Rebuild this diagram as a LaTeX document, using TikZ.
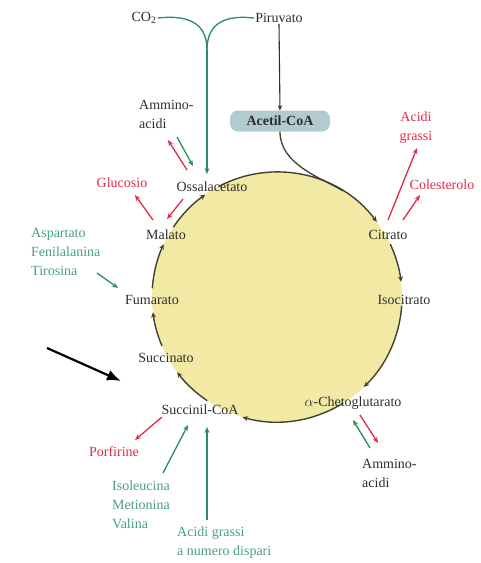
\documentclass[tikz,border=0pt]{standalone}
\usepackage{fontspec}
\setmainfont{Liberation Serif}
\usetikzlibrary{arrows.meta,calc}
\definecolor{cyc}{RGB}{242,233,165}
\definecolor{rim}{RGB}{65,65,45}
\definecolor{rd}{RGB}{222,45,70}
\definecolor{gr}{RGB}{45,140,95}
\definecolor{grt}{RGB}{70,160,120}
\definecolor{boxc}{RGB}{178,203,208}
\definecolor{txt}{RGB}{45,45,45}
\begin{document}
\begin{tikzpicture}[x=1pt,y=1pt,
 lbl/.style={font=\fontsize{14}{19}\selectfont, text=txt, inner sep=1pt},
 rlbl/.style={lbl,text=rd},
 glbl/.style={lbl,text=grt},
 multi/.style={align=left, anchor=west},
 cycarrow/.style={draw=rim, line width=1.4pt, -{Stealth[length=5.5pt,width=5pt]}},
 rarr/.style={draw=rd, line width=1.3pt, -{Stealth[length=6pt,width=5pt]}},
 garr/.style={draw=gr, line width=1.3pt, -{Stealth[length=6pt,width=5pt]}},
 gline/.style={draw=gr, line width=1.3pt},
 acbox/.style={lbl, fill=boxc, rounded corners=8pt, minimum width=100pt, minimum height=21pt, font=\fontsize{14}{17}\selectfont\bfseries},
]
\useasboundingbox (0,0) rectangle (480,-563);
\coordinate (c) at (277,-297);
\fill[cyc] (c) circle (125pt);

% cycle arcs
\draw[cycarrow] ($(c)+(118:125pt)$) arc[start angle=118, end angle=37, radius=125pt];
\draw[cycarrow] ($(c)+(25:125pt)$) arc[start angle=25, end angle=7, radius=125pt];
\draw[cycarrow] ($(c)+(-4:125pt)$) arc[start angle=-4, end angle=-46, radius=125pt];
\draw[cycarrow] ($(c)+(-58:125pt)$) arc[start angle=-58, end angle=-106, radius=125pt];
\draw[cycarrow] ($(c)+(-124:125pt)$) arc[start angle=-124, end angle=-143, radius=125pt];
\draw[cycarrow] ($(c)+(-157:125pt)$) arc[start angle=-157, end angle=-173, radius=125pt];
\draw[cycarrow] ($(c)+(176:125pt)$) arc[start angle=176, end angle=155, radius=125pt];
\draw[cycarrow] ($(c)+(146:125pt)$) arc[start angle=146, end angle=125, radius=125pt];

% labels
\node[lbl] (co2) at (144,-18) {CO\textsubscript{2}};
\node[lbl] (pir) at (279,-18) {Piruvato};
\node[acbox] (acoa) at (280,-121) {Acetil-CoA};
\node[lbl,multi] (aa1) at (138,-114) {Ammino-\\acidi};
\node[lbl] (oaa) at (212,-187) {Ossalacetato};
\node[rlbl] (glc) at (122,-183) {Glucosio};
\node[lbl] (mal) at (166,-235) {Malato};
\node[glbl,multi] (asp) at (30,-252) {Aspartato\\Fenilalanina\\Tirosina};
\node[lbl] (fum) at (152,-300) {Fumarato};
\node[lbl] (suc) at (166,-358) {Succinato};
\node[lbl] (sca) at (200,-410) {Succinil-CoA};
\node[rlbl] (por) at (114,-452) {Porfirine};
\node[glbl,multi] (ile) at (111,-505) {Isoleucina\\Metionina\\Valina};
\node[glbl,multi] (afa) at (176,-543) {Acidi grassi\\a numero dispari};
\node[lbl] (akg) at (353,-403) {$\alpha$-Chetoglutarato};
\node[lbl,multi] (aa2) at (361,-473) {Ammino-\\acidi};
\node[lbl] (iso) at (404,-300) {Isocitrato};
\node[lbl] (cit) at (388,-235) {Citrato};
\node[rlbl] (col) at (442,-185) {Colesterolo};
\node[rlbl,align=center] (ag) at (416,-128) {Acidi\\grassi};

% piruvato -> acetil-CoA -> cycle
\draw[draw=txt, line width=1.1pt, -{Stealth[length=5pt,width=4.5pt]}] (pir.south) -- (acoa.north);
\coordinate (join) at ($(c)+(58:125pt)$);
\draw[draw=rim, line width=1.3pt] (acoa.south) .. controls (280,-165) and (322,-178) .. (join);

% green Y from CO2 and Piruvato into Ossalacetato
\coordinate (yj) at (207,-50);
\draw[gline] (co2.east) .. controls (195,-14) and (207,-28) .. (yj);
\draw[gline] (pir.west) .. controls (219,-14) and (207,-28) .. (yj);
\coordinate (oaatop) at (207,-174);
\draw[garr] (yj) -- (oaatop);

% side arrows
\coordinate (a1) at (187,-170); \coordinate (a2) at (168,-140);
\draw[rarr] (a1) -- (a2);
\coordinate (a3) at (177,-137); \coordinate (a4) at (193,-166);
\draw[garr] (a3) -- (a4);
\coordinate (g1) at (153,-220); \coordinate (g2) at (135,-195);
\draw[rarr] (g1) -- (g2);
\coordinate (o1) at (183,-199); \coordinate (o2) at (167,-219);
\draw[rarr] (o1) -- (o2);
\coordinate (s1) at (97,-273); \coordinate (s2) at (118,-288);
\draw[garr] (s1) -- (s2);
\coordinate (c1) at (388,-220); \coordinate (c2) at (417,-148);
\draw[rarr] (c1) -- (c2);
\coordinate (c3) at (403,-220); \coordinate (c4) at (420,-195);
\draw[rarr] (c3) -- (c4);
\coordinate (k1) at (370,-448); \coordinate (k2) at (353,-420);
\draw[garr] (k1) -- (k2);
\coordinate (k3) at (360,-415); \coordinate (k4) at (378,-443);
\draw[rarr] (k3) -- (k4);
\coordinate (p1) at (162,-417); \coordinate (p2) at (135,-440);
\draw[rarr] (p1) -- (p2);
\coordinate (i1) at (163,-473); \coordinate (i2) at (188,-425);
\draw[garr] (i1) -- (i2);
\coordinate (f1) at (207,-520); \coordinate (f2) at (207,-427);
\draw[garr] (f1) -- (f2);

% black pointer arrow
\coordinate (bt) at (47,-348); \coordinate (bh) at (121,-381);
\draw[line width=2.2pt, -{Latex[length=14pt,width=11pt]}] (bt) -- (bh);
\end{tikzpicture}
\end{document}
